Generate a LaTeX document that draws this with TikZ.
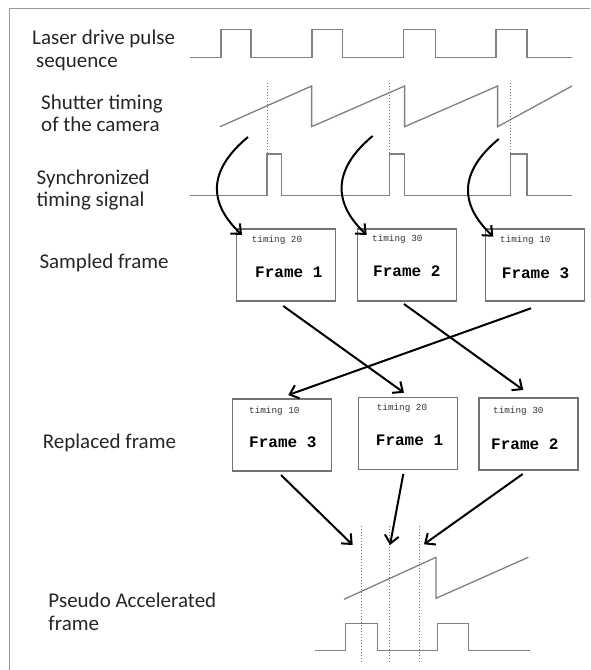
\documentclass[tikz,border=0pt]{standalone}
\usepackage{fontspec}
\setmainfont{Carlito}
\newfontfamily\monof{Liberation Mono}
\usetikzlibrary{arrows.meta}
\begin{document}
\begin{tikzpicture}[x=1pt,y=-1pt,
  wave/.style={draw=black!50, line width=1.3pt, line join=miter},
  guide/.style={draw=black!55, dotted, line width=1pt},
  border/.style={draw=black!40, line width=1.5pt},
  frm/.style={draw=black!55, line width=1.4pt, minimum width=99pt, minimum height=72pt, inner sep=0, anchor=north west},
  lbl/.style={font=\fontsize{21}{22.5}\selectfont, align=left, anchor=west, inner sep=0, text=black!85},
  tim/.style={font=\monof\fontsize{9.3}{10}\selectfont, anchor=west, inner sep=0, text=black!80},
  fnm/.style={font=\monof\bfseries\fontsize{16}{18}\selectfont, anchor=west, inner sep=0},
  arr/.style={draw=black, line width=2pt, -{Straight Barb[length=8pt,width=14pt]}},
]
\useasboundingbox (0,0) rectangle (590,670);
\draw[border] (9.3,670) -- (9.3,8.3) -- (590,8.3);

% labels
\node[lbl] (lLaser) at (32,50.5) {Laser drive pulse\\\hspace*{4pt}sequence};
\node[lbl] (lShut) at (41,113.5) {Shutter timing\\of the camera};
\node[lbl] (lSync) at (36.5,190) {Synchronized\\timing signal};
\node[lbl] (lSamp) at (39.3,262.7) {Sampled frame};
\node[lbl] (lRepl) at (42.7,442.7) {Replaced frame};
\node[lbl] (lPseu) at (48.3,612) {Pseudo Accelerated\\frame};

% laser pulses
\draw[wave] (190,57.3) -| (221,29.3) -| (251,57.3) -| (312,29.3) -| (342.5,57.3)
  -| (403.5,29.3) -| (435.5,57.3) -| (496,29.3) -| (527,57.3) -- (572,57.3);
% shutter sawtooth
\draw[wave] (220,126.7) -- (311.6,86) -- (311.6,126.7) -- (404.6,86) -- (404.6,126.7)
  -- (497.6,86) -- (497.6,126.7) -- (572,86);
% sync signal
\draw[wave] (190,195.7) -| (267,154) -| (281.5,195.7) -| (389.5,154) -| (404.6,195.7)
  -| (510.7,154) -| (527,195.7) -- (572,195.7);
% dotted guides
\draw[guide] (267,83) -- (267,154);
\draw[guide] (389.5,83) -- (389.5,154);
\draw[guide] (510.7,83) -- (510.7,154);

% sampled frames
\node[frm] (s1) at (236,228.3) {};
\node[frm] (s2) at (356.7,228.3) {};
\node[frm] (s3) at (485,228.3) {};
\node[tim] (s1t) at (251.7,240) {timing 20};
\node[tim] (s2t) at (372,239.3) {timing 30};
\node[tim] (s3t) at (500,240) {timing 10};
\node[fnm] (s1f) at (255,272.7) {Frame 1};
\node[fnm] (s2f) at (373,271.7) {Frame 2};
\node[fnm] (s3f) at (501.7,273) {Frame 3};

% replaced frames
\node[frm] (r1) at (231.7,398.3) {};
\node[frm] (r2) at (357.7,396.7) {};
\node[frm] (r3) at (478.3,397.3) {};
\node[tim] (r1t) at (249,410.7) {timing 10};
\node[tim] (r2t) at (376.7,408.3) {timing 20};
\node[tim] (r3t) at (493,410.7) {timing 30};
\node[fnm] (r1f) at (249,442.7) {Frame 3};
\node[fnm] (r2f) at (375.7,440) {Frame 1};
\node[fnm] (r3f) at (491,444) {Frame 2};

% bottom waveforms
\draw[guide] (361,526) -- (361,662);
\draw[guide] (389.3,526) -- (389.3,662);
\draw[guide] (419,526) -- (419,662);
\draw[wave] (344,599.3) -- (436,557.3) -- (436,598.3) -- (528.3,557.3);
\draw[wave] (315,650.7) -| (345.7,623.3) -| (377.3,650.7) -| (437.3,623.3) -| (468.3,650.7) -- (530,650.7);

% arrow coordinates
\coordinate (c1a) at (248,137);
\coordinate (c2a) at (372.6,136);
\coordinate (c3a) at (498.7,139);
\coordinate (xa) at (283.3,306);
\coordinate (xb) at (404,304);
\coordinate (xc) at (531,308.3);
\coordinate (ya) at (404,392.7);
\coordinate (yb) at (523.3,390);
\coordinate (yc) at (288.3,395);
\coordinate (za) at (281,475);
\coordinate (zb) at (403.3,474);
\coordinate (zc) at (522.7,474);
\coordinate (ta) at (352.7,545);
\coordinate (tb) at (390,545);
\coordinate (tc) at (424,544.3);
\coordinate (k1) at (242,235);
\coordinate (k2) at (366.7,235);
\coordinate (k3) at (493.3,236.7);

% curved arrows
\draw[arr] (c1a) .. controls +(-30,25) and +(-42,-40) .. (k1);
\draw[arr] (c2a) .. controls +(-30,25) and +(-42,-40) .. (k2);
\draw[arr] (c3a) .. controls +(-30,25) and +(-42,-40) .. (k3);

% crossing arrows
\draw[arr] (xa) -- (ya);
\draw[arr] (xb) -- (yb);
\draw[arr] (xc) -- (yc);

% to pseudo frame
\draw[arr] (za) -- (ta);
\draw[arr] (zb) -- (tb);
\draw[arr] (zc) -- (tc);
\end{tikzpicture}
\end{document}
